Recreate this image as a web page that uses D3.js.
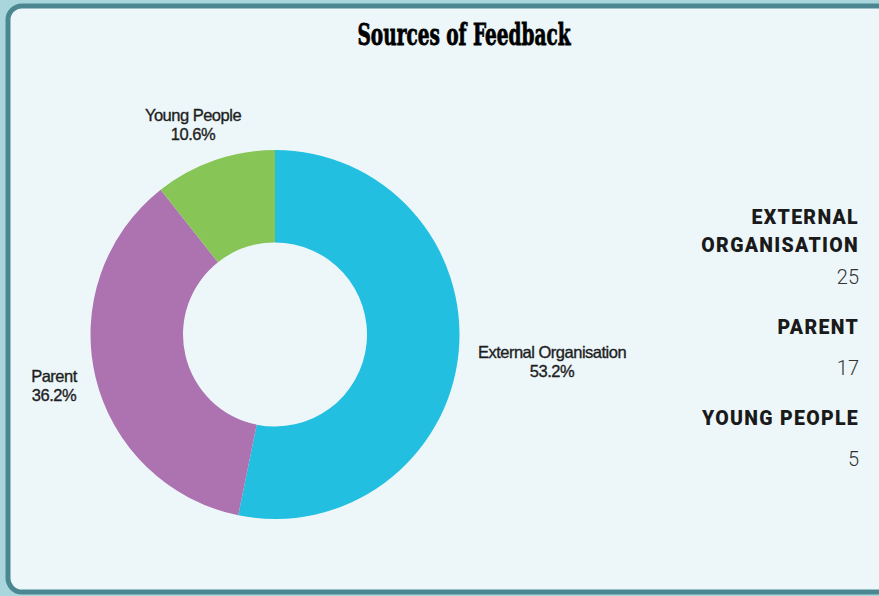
<!DOCTYPE html>
<html>
<head>
<meta charset="utf-8">
<script src="https://cdn.jsdelivr.net/npm/d3@7"></script>
<style>
  body { margin: 0; background: #a9d6dd; }
  svg { display: block; }
</style>
</head>
<body>
<svg id="chart" width="879" height="596"></svg>
<script>
// data
var categories = ["External Organisation", "Parent", "Young People"];
var counts = [25, 17, 5];
var percents = ["53.2%", "36.2%", "10.6%"];
var legendNames = [["EXTERNAL", "ORGANISATION"], ["PARENT"], ["YOUNG PEOPLE"]];
var colours = ["#22bfe0", "#ad72b0", "#88c557"];

var svg = d3.select("#chart");

// panel
svg.append("rect")
    .attr("x", 8).attr("y", 6)
    .attr("width", 900).attr("height", 586)
    .attr("rx", 14).attr("ry", 14)
    .attr("fill", "#edf7fa")
    .attr("stroke", "#4b8791")
    .attr("stroke-width", 5);

// title
svg.append("text")
    .attr("x", 464).attr("y", 45)
    .attr("text-anchor", "middle")
    .attr("font-family", "'DejaVu Serif Condensed', 'DejaVu Serif', serif")
    .attr("font-weight", "bold")
    .attr("font-size", 30)
    .attr("textLength", 213)
    .attr("lengthAdjust", "spacingAndGlyphs")
    .attr("fill", "#000")
    .attr("stroke", "#000")
    .attr("stroke-width", 0.8)
    .text("Sources of Feedback");

// donut
var cx = 275, cy = 334.5, outerR = 184.5, innerR = 92;
var pie = d3.pie().sort(null).value(function(d) { return d; });
var arc = d3.arc().innerRadius(innerR).outerRadius(outerR);
var arcs = pie(counts);

var g = svg.append("g").attr("transform", "translate(" + cx + "," + cy + ")");
g.selectAll(".slice").data(arcs).enter().append("path")
    .attr("class", "slice")
    .attr("d", arc)
    .attr("fill", function(d, i) { return colours[i]; });

// slice labels
var labelPos = [[552, 358, "middle"], [54, 382, "middle"], [193, 121, "middle"]];
var lbl = svg.selectAll(".lbl").data(arcs).enter().append("text")
    .attr("class", "lbl")
    .attr("font-family", "'Liberation Sans', Arial, sans-serif")
    .attr("font-size", 16.5)
    .attr("letter-spacing", -0.5)
    .attr("fill", "#1e1e1e")
    .attr("stroke", "#1e1e1e")
    .attr("stroke-width", 0.35)
    .attr("text-anchor", function(d, i) { return labelPos[i][2]; });
lbl.append("tspan")
    .attr("x", function(d, i) { return labelPos[i][0]; })
    .attr("y", function(d, i) { return labelPos[i][1]; })
    .text(function(d, i) { return categories[i]; });
lbl.append("tspan")
    .attr("x", function(d, i) { return labelPos[i][0]; })
    .attr("dy", 19)
    .text(function(d, i) { return percents[i]; });

// right legend
var legendY = [224, 334, 425];
var lx = 859;
var leg = svg.selectAll(".leg").data(categories).enter().append("g").attr("class", "leg");
leg.each(function(d, i) {
    var sel = d3.select(this);
    var names = legendNames[i];
    names.forEach(function(n, j) {
        sel.append("text")
            .attr("x", lx).attr("y", legendY[i] + j * 28)
            .attr("text-anchor", "end")
            .attr("font-family", "Roboto, 'DejaVu Sans', sans-serif")
            .attr("font-weight", 900)
            .attr("font-size", 19.5)
            .attr("letter-spacing", 1.3)
            .attr("fill", "#1a1a1a")
            .text(n);
    });
    sel.append("text")
        .attr("x", lx).attr("y", legendY[i] + (names.length - 1) * 28 + (names.length > 1 ? 32 : 41))
        .attr("text-anchor", "end")
        .attr("font-family", "Roboto, 'DejaVu Sans', sans-serif")
        .attr("font-weight", 300)
        .attr("font-size", 20)
        .attr("fill", "#333")
        .text(counts[i]);
});
</script>
</body>
</html>
